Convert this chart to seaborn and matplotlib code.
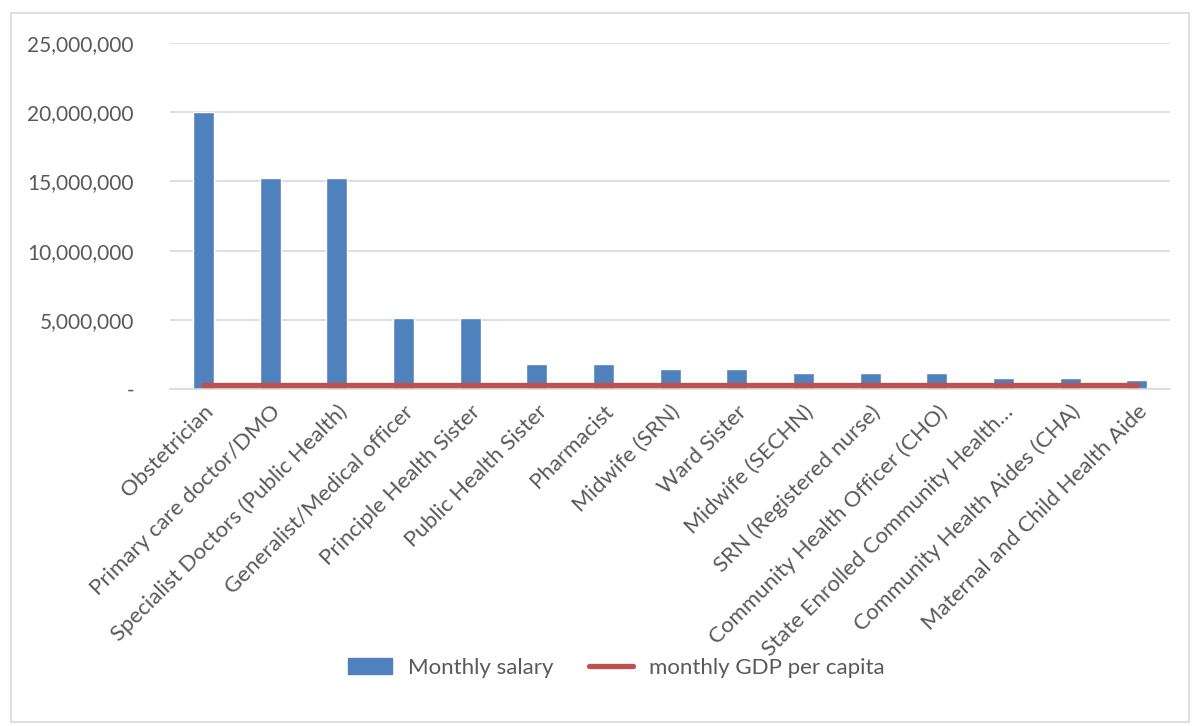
import matplotlib
matplotlib.use("Agg")
import matplotlib.pyplot as plt
import seaborn as sns
import pandas as pd
from matplotlib.patches import Patch, Rectangle
from matplotlib.lines import Line2D
from matplotlib.ticker import FuncFormatter

# Chart data
professions = [
    "Obstetrician",
    "Primary care doctor/DMO",
    "Specialist Doctors (Public Health)",
    "Generalist/Medical officer",
    "Principle Health Sister",
    "Public Health Sister",
    "Pharmacist",
    "Midwife (SRN)",
    "Ward Sister",
    "Midwife (SECHN)",
    "SRN (Registered nurse)",
    "Community Health Officer (CHO)",
    "State Enrolled Community Health\u2026",
    "Community Health Aides (CHA)",
    "Maternal and Child Health Aide",
]
monthly_salary = [
    20000000, 15250000, 15250000, 5125000, 5125000,
    1780000, 1780000, 1450000, 1450000, 1120000,
    1120000, 1120000, 780000, 780000, 650000,
]
gdp_per_capita = [270000] * len(professions)

df = pd.DataFrame({
    "Profession": professions,
    "Monthly salary": monthly_salary,
    "monthly GDP per capita": gdp_per_capita,
})

bar_color = "#4f81bd"
line_color = "#c0504d"
text_color = "#595959"
grid_color = "#d9d9d9"

sns.set_style("white")
plt.rcParams["font.family"] = ["Lato", "DejaVu Sans"]

fig = plt.figure(figsize=(12, 7.26), dpi=100)
ax = fig.add_axes([170 / 1200, 1 - 389 / 726, 1000 / 1200, 346 / 726])

sns.barplot(data=df, x="Profession", y="Monthly salary", color=bar_color,
            width=0.315, saturation=1, ax=ax, zorder=2)
sns.lineplot(data=df, x="Profession", y="monthly GDP per capita", color=line_color,
             linewidth=3.8, solid_capstyle="round", ax=ax, zorder=3)

ax.set_xlim(-0.5, len(professions) - 0.5)
ax.set_ylim(0, 25000000)
ax.set_yticks(range(0, 25000001, 5000000))
ax.yaxis.set_major_formatter(FuncFormatter(lambda v, p: "-" if v == 0 else f"{int(v):,}"))
ax.grid(axis="y", color=grid_color, linewidth=1.2, zorder=0)
ax.set_axisbelow(True)
for side in ["top", "right", "left"]:
    ax.spines[side].set_visible(False)
ax.spines["bottom"].set_color(grid_color)
ax.spines["bottom"].set_linewidth(1.2)
ax.set_xlabel("")
ax.set_ylabel("")

ax.tick_params(axis="y", length=0, pad=26, labelsize=15, labelcolor=text_color)
ax.tick_params(axis="x", length=0, pad=9, labelsize=16, labelcolor=text_color)
plt.setp(ax.get_xticklabels(), rotation=45, ha="right", rotation_mode="anchor")

# Legend at bottom
handles = [
    Patch(facecolor=bar_color, edgecolor=bar_color, label="Monthly salary"),
    Line2D([0], [0], color=line_color, linewidth=3.8, solid_capstyle="round",
           label="monthly GDP per capita"),
]
fig.legend(handles=handles, loc="center", bbox_to_anchor=(0.5 + 16 / 1200, 1 - 668 / 726),
           ncol=2, frameon=False, fontsize=16, labelcolor=text_color, handlelength=2.0,
           handleheight=0.7, columnspacing=1.6, handletextpad=0.7)

# Chart border
fig.patches.append(Rectangle((11 / 1200, 4 / 726), 1178 / 1200, 709 / 726,
                             transform=fig.transFigure, fill=False,
                             edgecolor=grid_color, linewidth=1.2))

fig.savefig("out.png", dpi=100, facecolor="white")
